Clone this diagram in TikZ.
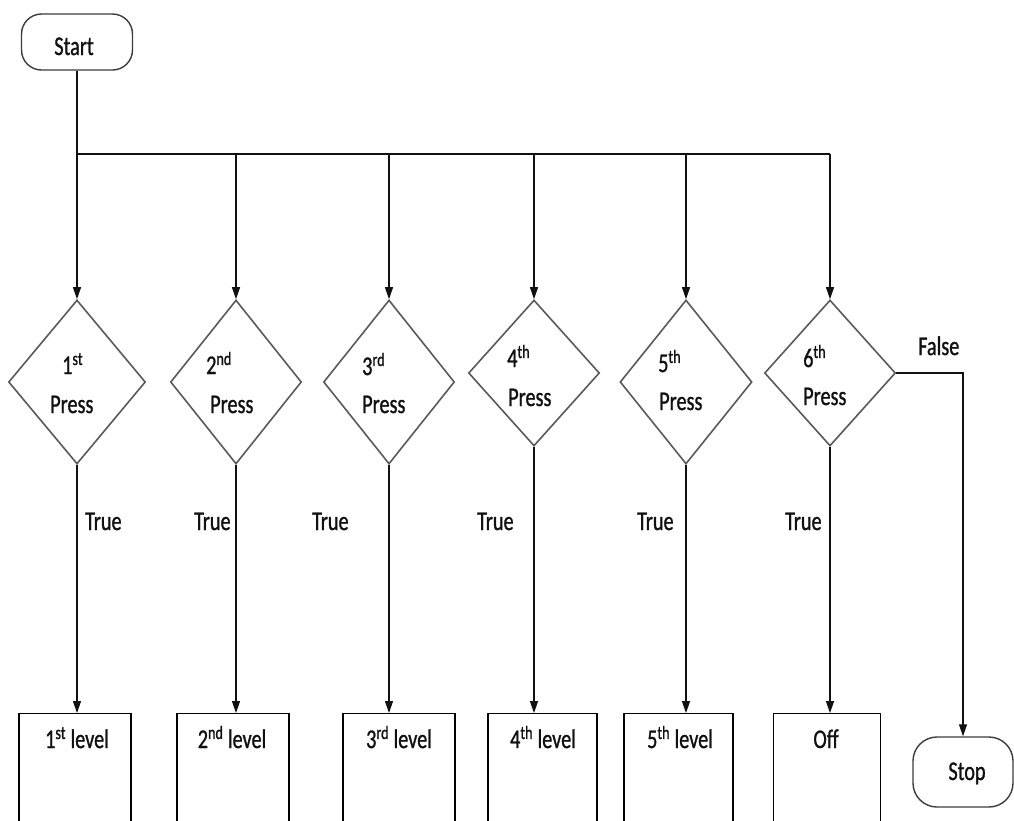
\documentclass[tikz,border=0pt]{standalone}
\usepackage{fontspec}
\setmainfont{Carlito}[FakeStretch=0.75,FakeBold=1]
\usetikzlibrary{arrows.meta,shapes.geometric}
\definecolor{ink}{HTML}{111111}
\definecolor{edgegray}{HTML}{5A5A5A}
\definecolor{termgray}{HTML}{3C3C3C}
\begin{document}
\begin{tikzpicture}[x=1pt,y=-1pt,
  txt/.style={font=\fontsize{27}{32}\selectfont,text=ink,inner sep=0pt},
  term/.style={draw=termgray,line width=1.4pt,rounded corners=20pt,inner sep=0pt},
  decision/.style={draw=edgegray,line width=1.6pt,shape=diamond,inner sep=0pt},
  outbox/.style={draw=black,line width=1.4pt,minimum height=130pt,anchor=north,inner sep=0pt},
  flow/.style={draw=ink,line width=1.2pt,-{Triangle[length=12pt,width=8pt]}},
  bus/.style={draw=ink,line width=1.4pt}]
\useasboundingbox (0,0) rectangle (1014,820);
\fill[white] (0,0) rectangle (1014,820);
\begin{scope}
\clip (0,0) rectangle (1014,820);

% terminals
\node[term,minimum width=111pt,minimum height=56pt] (start) at (77,42) {};
\node[txt,anchor=base] (starttxt) at (74,55) {Start};
\node[term,minimum width=100pt,minimum height=70pt,rounded corners=24pt] (stop) at (963,772) {};
\node[txt,anchor=base] (stoptxt) at (967,780) {Stop};

% decisions
\node[decision,minimum width=137pt,minimum height=164pt] (d1) at (77,382) {};
\node[decision,minimum width=131pt,minimum height=164pt] (d2) at (236,382) {};
\node[decision,minimum width=131pt,minimum height=164pt] (d3) at (389,382) {};
\node[decision,minimum width=131pt,minimum height=146pt] (d4) at (534,373) {};
\node[decision,minimum width=132pt,minimum height=164pt] (d5) at (686,382) {};
\node[decision,minimum width=131pt,minimum height=146pt] (d6) at (830,373) {};

\node[txt,anchor=base west] (d1a) at (62,374) {1\textsuperscript{st}};
\node[txt,anchor=base west] (d1b) at (50,413) {Press};
\node[txt,anchor=base west] (d2a) at (206,374) {2\textsuperscript{nd}};
\node[txt,anchor=base west] (d2b) at (210,413) {Press};
\node[txt,anchor=base west] (d3a) at (362,375) {3\textsuperscript{rd}};
\node[txt,anchor=base west] (d3b) at (362,413) {Press};
\node[txt,anchor=base west] (d4a) at (507,367) {4\textsuperscript{th}};
\node[txt,anchor=base west] (d4b) at (508,406) {Press};
\node[txt,anchor=base west] (d5a) at (658,372) {5\textsuperscript{th}};
\node[txt,anchor=base west] (d5b) at (659,410) {Press};
\node[txt,anchor=base west] (d6a) at (803,367) {6\textsuperscript{th}};
\node[txt,anchor=base west] (d6b) at (803,405) {Press};

% outcome boxes
\node[outbox,minimum width=112pt] (b1) at (75,713) {};
\node[outbox,minimum width=112pt] (b2) at (233,713) {};
\node[outbox,minimum width=112pt] (b3) at (399,713) {};
\node[outbox,minimum width=109pt] (b4) at (542.5,713) {};
\node[outbox,minimum width=109pt] (b5) at (678.5,713) {};
\node[outbox,minimum width=107pt] (b6) at (827,713) {};

\node[txt,anchor=base] (b1t) at (77,748) {1\textsuperscript{st}\,level};
\node[txt,anchor=base] (b2t) at (232,748) {2\textsuperscript{nd}\,level};
\node[txt,anchor=base] (b3t) at (399,748) {3\textsuperscript{rd}\,level};
\node[txt,anchor=base] (b4t) at (543,748) {4\textsuperscript{th}\,level};
\node[txt,anchor=base] (b5t) at (680,748) {5\textsuperscript{th}\,level};
\node[txt,anchor=base] (b6t) at (826,748) {Off};

% distribution bus
\coordinate (j0) at (77,154);
\coordinate (j6) at (830,154);
\draw[bus] (start.south) -- (j0);
\draw[bus] (j0) -- (j6);
\draw[flow] (j0) -- (d1.north);
\draw[flow] (d2.north |- j0) -- (d2.north);
\draw[flow] (d3.north |- j0) -- (d3.north);
\draw[flow] (d4.north |- j0) -- (d4.north);
\draw[flow] (d5.north |- j0) -- (d5.north);
\draw[flow] (j6) -- (d6.north);

% true branches
\draw[flow] (d1.south) -- (d1.south |- b1.north);
\draw[flow] (d2.south) -- (d2.south |- b2.north);
\draw[flow] (d3.south) -- (d3.south |- b3.north);
\draw[flow] (d4.south) -- (d4.south |- b4.north);
\draw[flow] (d5.south) -- (d5.south |- b5.north);
\draw[flow] (d6.south) -- (d6.south |- b6.north);

\node[txt,anchor=base west] (t1) at (85,530) {True};
\node[txt,anchor=base west] (t2) at (194,530) {True};
\node[txt,anchor=base west] (t3) at (312,530) {True};
\node[txt,anchor=base west] (t4) at (477,530) {True};
\node[txt,anchor=base west] (t5) at (637,530) {True};
\node[txt,anchor=base west] (t6) at (785,530) {True};

% false branch
\draw[flow] (d6.east) -| (stop.north);
\node[txt,anchor=base west] (f6) at (918,355) {False};
\end{scope}
\end{tikzpicture}
\end{document}
